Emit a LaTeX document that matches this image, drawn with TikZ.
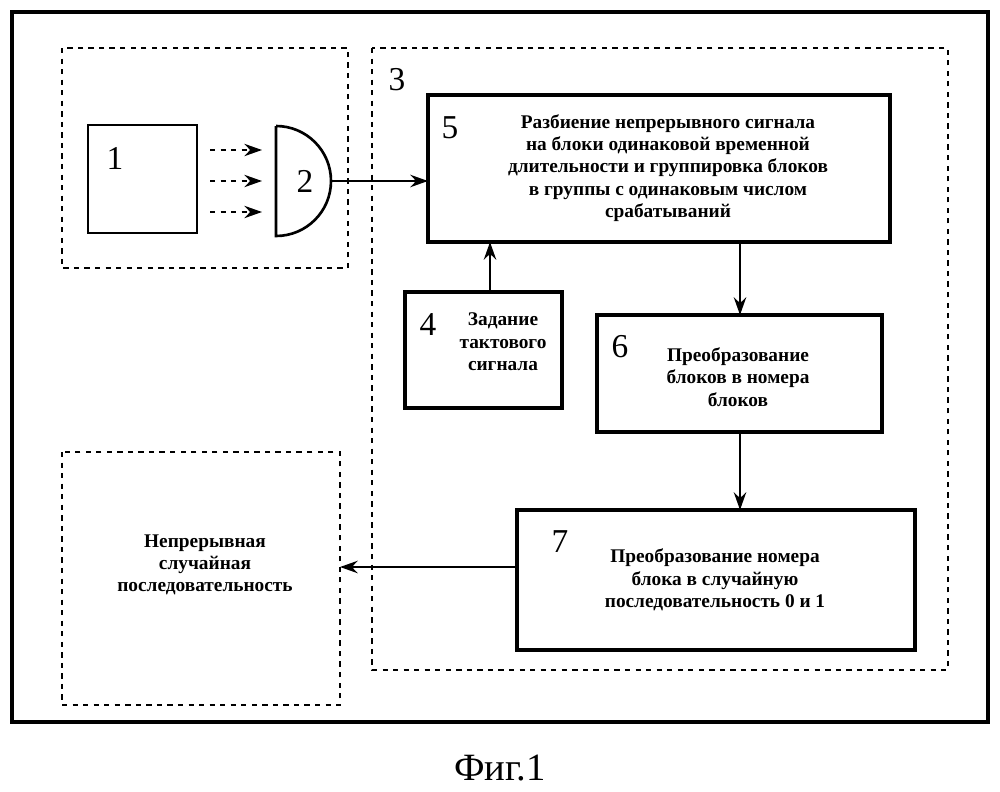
\documentclass[tikz,border=0pt]{standalone}
\usepackage{fontspec}
\setmainfont{Liberation Serif}
\usetikzlibrary{arrows.meta}
\begin{document}
\begin{tikzpicture}[x=0.02cm,y=-0.02cm,
 box/.style={draw,line width=2pt},
 dbox/.style={draw,dashed,line width=0.6pt},
 num/.style={font=\fontsize{19}{19}\selectfont},
 txt/.style={font=\fontsize{11}{12.7}\selectfont\bfseries,align=center},
 arr/.style={-{Stealth[length=10pt,width=7pt]},line width=1.5pt}]
\useasboundingbox (0,0) rectangle (1000,791);
\draw[line width=2.2pt] (12,12) rectangle (988,722);
\draw[dbox] (62,48) rectangle (348,268);
\draw[dbox] (372,48) rectangle (948,670);
\draw[dbox] (62,452) rectangle (340,705);
\node[num] at (397,80) {3};
% 1 and 2
\draw[line width=1.5pt] (88,125) rectangle (197,233);
\node[num] at (115,158) {1};
\foreach \y in {150,181,212} \draw[arr,dashed,line width=1.2pt] (210,\y) -- (262,\y);
\draw[line width=1.5pt] (276,126) -- (276,236) arc[start angle=90,end angle=-90,radius=55];
\node[num] at (305,181) {2};
\coordinate (s2) at (332,181);
% boxes
\draw[box] (428,95) rectangle (890,242);
\node[num] at (450,128) {5};
\node[txt] (t5) at (668,168) {Разбиение непрерывного сигнала\\на блоки одинаковой временной\\длительности и группировка блоков\\в группы с одинаковым числом\\срабатываний};
\draw[box] (405,292) rectangle (562,408);
\node[num] at (428,325) {4};
\node[txt] at (503,342) {Задание\\тактового\\сигнала};
\draw[box] (597,315) rectangle (882,432);
\node[num] at (620,347) {6};
\node[txt] at (738,377) {Преобразование\\блоков в номера\\блоков};
\draw[box] (517,510) rectangle (915,650);
\node[num] at (560,542) {7};
\node[txt] at (715,580) {Преобразование номера\\блока в случайную\\последовательность 0 и 1};
\node[txt] at (205,565) {Непрерывная\\случайная\\последовательность};
% arrows
\coordinate (a5in) at (428,181);
\coordinate (a4t) at (490,292);
\coordinate (a5b) at (490,242);
\coordinate (b5o) at (740,242);
\coordinate (b6i) at (740,315);
\coordinate (b6o) at (740,432);
\coordinate (b7i) at (740,510);
\coordinate (b7o) at (517,567);
\coordinate (outL) at (340,567);
\draw[arr] (s2) -- (a5in);
\draw[arr] (a4t) -- (a5b);
\draw[arr] (b5o) -- (b6i);
\draw[arr] (b6o) -- (b7i);
\draw[arr] (b7o) -- (outL);
\node[font=\fontsize{22}{22}\selectfont] at (500,768) {Фиг.1};
\end{tikzpicture}
\end{document}
